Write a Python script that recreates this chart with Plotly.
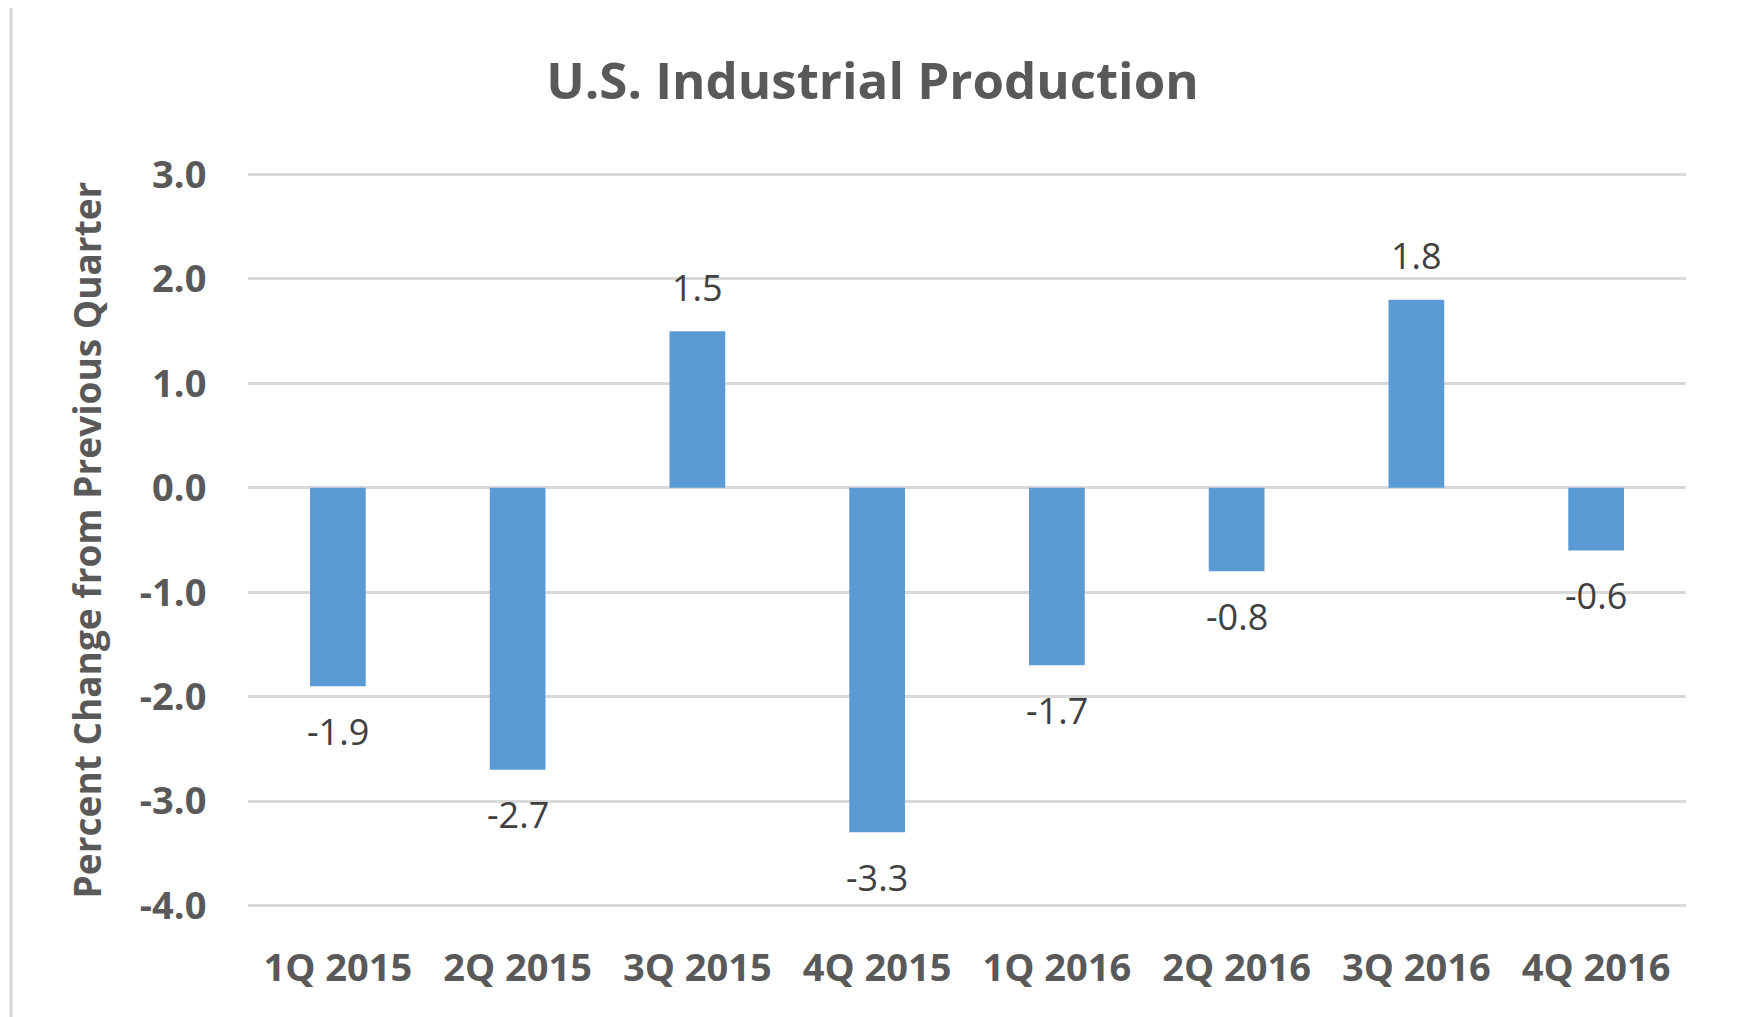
import plotly.graph_objects as go

quarters = ["1Q 2015", "2Q 2015", "3Q 2015", "4Q 2015",
            "1Q 2016", "2Q 2016", "3Q 2016", "4Q 2016"]
pct_change = [-1.9, -2.7, 1.5, -3.3, -1.7, -0.8, 1.8, -0.6]
y_ticks = [3.0, 2.0, 1.0, 0.0, -1.0, -2.0, -3.0, -4.0]

font_name = "Open Sans"
grey = "#595959"

# page body has an 8px margin, so the figure is a bit smaller than the window
W, H = 1729, 1009
L, T, PW, PH = 240, 165, 1438, 734

fig = go.Figure()
fig.add_trace(go.Bar(
    x=quarters, y=pct_change,
    marker=dict(color="#5B9BD5", line=dict(width=0)),
    width=0.31,
))

# data labels, placed beyond the end of each bar like Excel
for q, v in zip(quarters, pct_change):
    fig.add_annotation(x=q, y=v, text=f"{v:.1f}", showarrow=False,
                       yshift=44 if v > 0 else -45, yanchor="middle",
                       font=dict(family=font_name, size=36, color="#404040"))

fig.update_layout(
    width=W, height=H,
    margin=dict(l=L, r=W - L - PW, t=T, b=H - T - PH),
    paper_bgcolor="white", plot_bgcolor="white",
    showlegend=False,
    title=dict(text="<b>U.S. Industrial Production</b>", x=0.5, xanchor="center",
               xref="container", y=1 - 73 / H, yanchor="middle",
               font=dict(family=font_name, size=51, color=grey)),
)

fig.update_xaxes(
    showgrid=False, showline=False, zeroline=False,
    ticks="outside", ticklen=27, tickcolor="rgba(0,0,0,0)",
    tickfont=dict(family=font_name, size=38, color=grey, weight="bold"),
)
fig.update_yaxes(
    range=[-4.015, 3.015], tickvals=y_ticks, ticktext=[f"{v:.1f}" for v in y_ticks],
    showgrid=True, gridcolor="#D9D9D9", gridwidth=3,
    zeroline=True, zerolinecolor="#D9D9D9", zerolinewidth=3,
    ticks="outside", ticklen=33, tickcolor="rgba(0,0,0,0)",
    tickfont=dict(family=font_name, size=38, color=grey, weight="bold"),
    title=dict(text="Percent Change from Previous Quarter", standoff=26,
               font=dict(family=font_name, size=37, color=grey, weight="bold")),
)

# window frame
fig.add_shape(type="line", xref="paper", yref="paper", x0=(3 - L) / PW, x1=(3 - L) / PW,
              y0=-(H - T - PH) / PH, y1=1 + T / PH, line=dict(color="#D6D6D6", width=3))
fig.add_shape(type="line", xref="paper", yref="paper", x0=(1724 - L) / PW, x1=(1724 - L) / PW,
              y0=-(H - T - PH) / PH, y1=1 + T / PH, line=dict(color="#D6D6D6", width=4))

fig.write_html("out.html")
